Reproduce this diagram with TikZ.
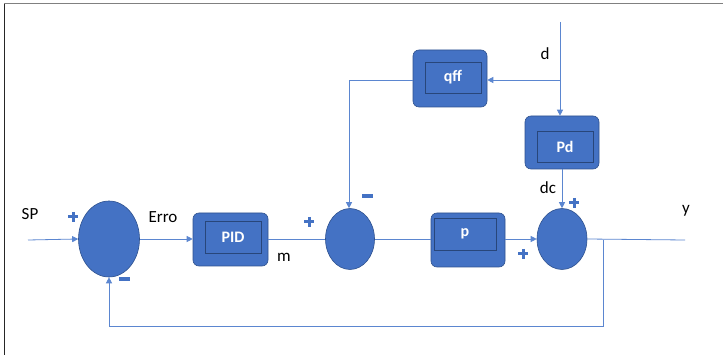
\documentclass[tikz,border=0pt]{standalone}
\usepackage{fontspec}
\setmainfont{Carlito}
\usetikzlibrary{arrows.meta}
\definecolor{ofblue}{HTML}{4472C4}
\definecolor{ofdark}{HTML}{2F528F}
\definecolor{ofline}{HTML}{5B86D0}
\tikzset{
  sumnode/.style={ellipse, draw=ofdark, fill=ofblue, line width=0.6pt},
  blockbox/.style={draw=ofdark, fill=ofblue, rounded corners=6pt, line width=0.6pt},
  innerbox/.style={draw=ofdark!85!black, line width=0.8pt, fill=ofblue, text=white, font=\bfseries\fontsize{16}{18}\selectfont, inner sep=0pt},
  sig/.style={draw=ofline, line width=0.8pt},
  sigarrow/.style={sig, -{Triangle[length=6pt,width=6pt]}},
  lbl/.style={text=black, font=\fontsize{17}{19}\selectfont, inner sep=0pt},
  pm/.style={draw=ofblue, line width=3pt},
}
\usetikzlibrary{shapes.geometric}
\begin{document}
\begin{tikzpicture}[x=1pt,y=-1pt]
\useasboundingbox (0,0) rectangle (723,355);
\fill[white] (0,0) rectangle (723,355);
% frame
\draw[black!85, line width=1pt] (4,4) -- (4,355);
\draw[black!50, line width=1pt] (4,4) -- (723,4);

% summing junctions
\node[sumnode, minimum width=61pt, minimum height=76pt, inner sep=0pt] (s1) at (109,239) {};
\node[sumnode, minimum width=49pt, minimum height=61pt, inner sep=0pt] (s2) at (350,239) {};
\node[sumnode, minimum width=50pt, minimum height=61pt, inner sep=0pt] (s3) at (562,239) {};

% blocks
\node[blockbox, minimum width=75pt, minimum height=53pt] (pidb) at (230.5,239.5) {};
\node[innerbox, minimum width=56pt, minimum height=32pt] (pid) at (233,237) {PID};
\node[blockbox, minimum width=74pt, minimum height=54pt] (pb) at (468,240) {};
\node[innerbox, minimum width=62pt, minimum height=32pt] (p) at (465,234) {p};
\node[blockbox, minimum width=74pt, minimum height=57pt] (qffb) at (450,78.5) {};
\node[innerbox, minimum width=56pt, minimum height=31pt] (qff) at (453,77.5) {qff};
\node[blockbox, minimum width=74pt, minimum height=53pt] (pdb) at (562,142.5) {};
\node[innerbox, minimum width=56pt, minimum height=31pt] (pd) at (565,146.5) {Pd};

% coordinates
\coordinate (spin) at (28,240);
\coordinate (dtop) at (560,22);
\coordinate (dbr) at (560,80);
\coordinate (qffl) at (349,80);
\coordinate (yout) at (685,240);
\coordinate (fb1) at (603,240);
\coordinate (fb2) at (603,326);
\coordinate (fb3) at (109,326);

% connectors
\draw[sigarrow] (spin) -- (s1.west);
\draw[sigarrow] (s1.east) -- (s1.east -| pidb.west);
\draw[sig] (pidb.east |- s2.west) -- (s2.west);
\draw[sig] (s2.east) -- (s2.east -| pb.west);
\draw[sigarrow] (pb.east |- s3.west) -- (s3.west);
\draw[sig] (s3.east) -- (yout);
\draw[sigarrow] (fb1) -- (fb2) -- (fb3) -- (s1.south);
\draw[sigarrow] (dtop) -- (dtop |- pdb.north);
\draw[sigarrow] (dbr) -- (dbr -| qffb.east);
\draw[sigarrow] (qffb.west |- qffl) -- (qffl) -- (qffl |- s2.north);
\draw[sigarrow] (pdb.south) -- (s3.north);

% labels
\node[lbl] (tsp) at (30,214) {SP};
\node[lbl] (terro) at (163,217) {Erro};
\node[lbl] (tm) at (284,257) {m};
\node[lbl] (td) at (545,54) {d};
\node[lbl] (tdc) at (548,188) {dc};
\node[lbl] (ty) at (686,211) {y};

% plus and minus signs
\draw[pm] (68,217) -- (78,217) (73,212) -- (73,222);
\draw[pm, line width=4pt] (119,279) -- (130,279);
\draw[pm] (304,222) -- (314,222) (309,217) -- (309,227);
\draw[pm, line width=4pt] (362,196) -- (373,196);
\draw[pm] (518,254) -- (528,254) (523,249) -- (523,259);
\draw[pm] (569,203) -- (579,203) (574,198) -- (574,208);
\end{tikzpicture}
\end{document}
